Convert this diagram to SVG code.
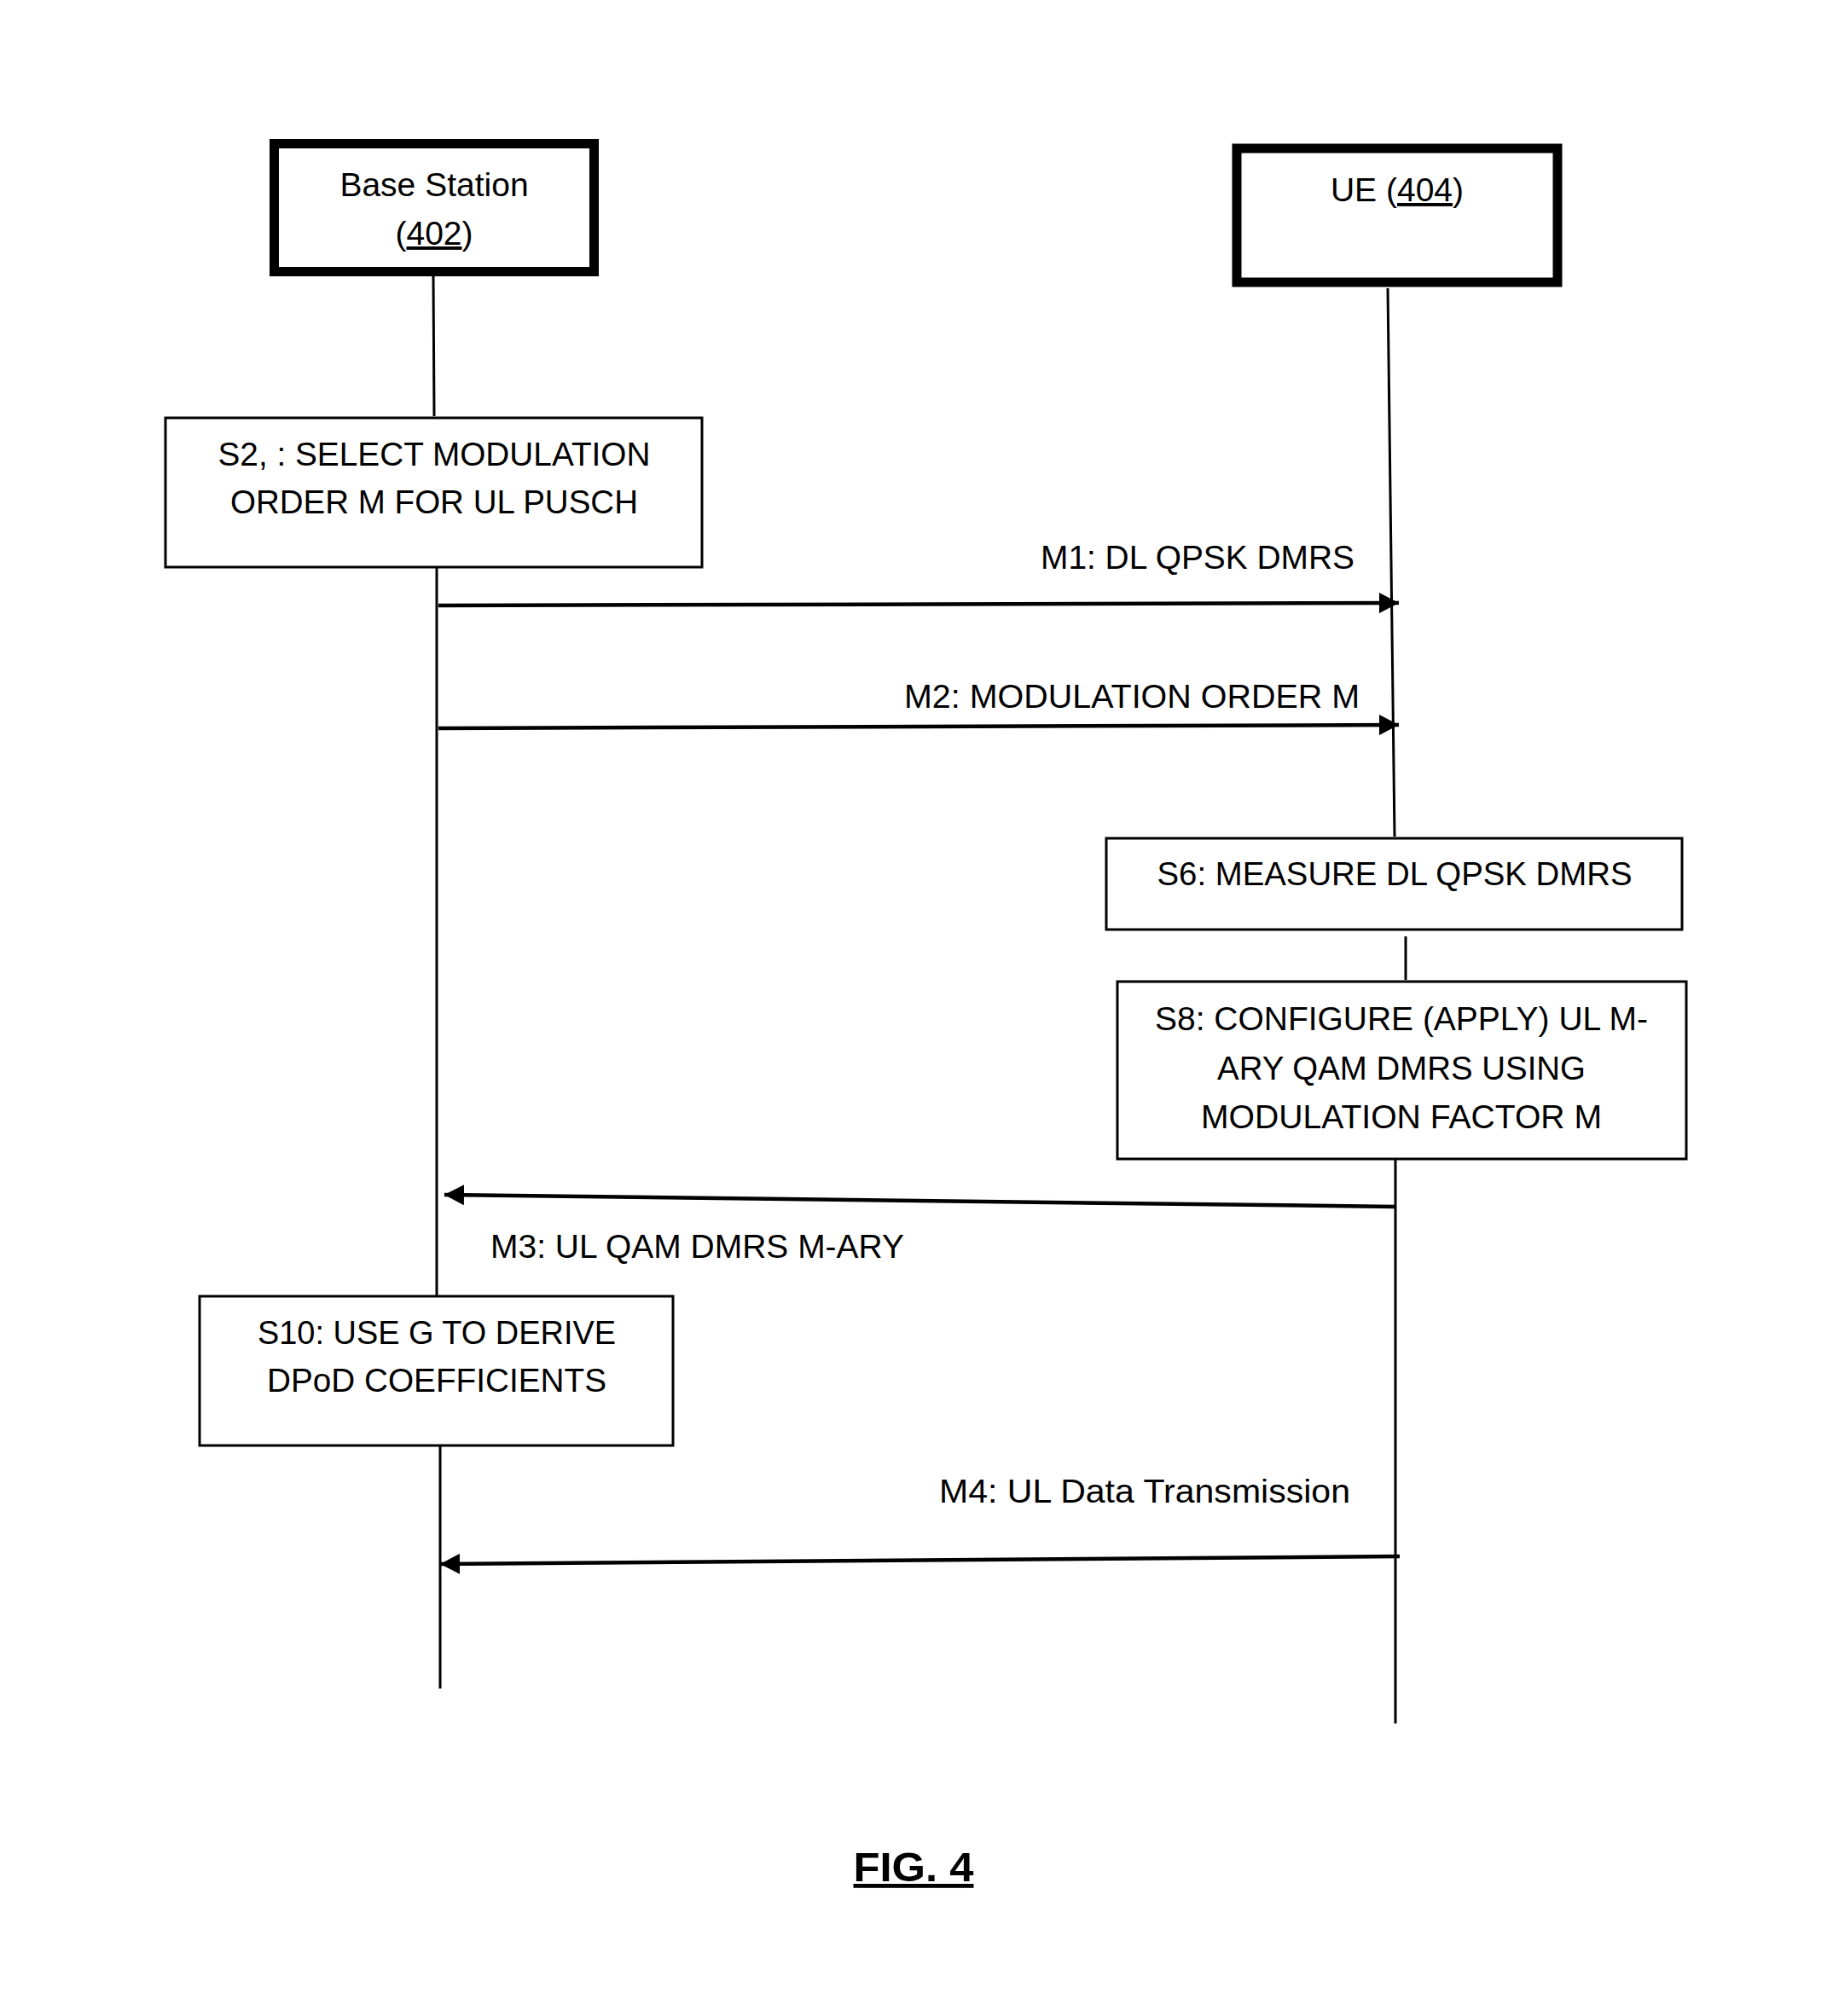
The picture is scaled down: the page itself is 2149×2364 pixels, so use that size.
<svg xmlns="http://www.w3.org/2000/svg" width="2149" height="2364" viewBox="0 0 2149 2364">
<style>
text{font-family:"Liberation Sans",Arial,sans-serif;fill:#000;}
.hd{font-size:39px;text-anchor:middle;}
.bx{font-size:38px;text-anchor:middle;}
.lb{font-size:38px;}
.actor{fill:#fff;stroke:#000;stroke-width:11;}
.step{fill:#fff;stroke:#000;stroke-width:3;}
.life{stroke:#000;stroke-width:3;fill:none;}
.msg{stroke:#000;stroke-width:4.5;fill:none;marker-end:url(#ah);}
.ul{text-decoration:underline;}
</style>
<defs>
<marker id="ah" viewBox="0 0 23 24" refX="23" refY="12" markerWidth="23" markerHeight="24" markerUnits="userSpaceOnUse" orient="auto">
<path d="M0,0 L23,12 L0,24 z" fill="#000"/>
</marker>
</defs>
<rect width="2149" height="2364" fill="#fff"/>
<g id="connectors">
<line class="life" x1="508" y1="324" x2="509" y2="488"/>
<line class="life" x1="512" y1="666" x2="512" y2="1519"/>
<line class="life" x1="516" y1="1696" x2="516" y2="1980"/>
<line class="life" x1="1627" y1="338" x2="1635" y2="981"/>
<line class="life" x1="1648" y1="1098" x2="1648" y2="1149"/>
<line class="life" x1="1636" y1="1360" x2="1636" y2="2021"/>
<line class="msg" x1="514" y1="710" x2="1640" y2="707"/>
<line class="msg" x1="514" y1="854" x2="1640" y2="850"/>
<line class="msg" x1="1636" y1="1415" x2="521" y2="1401"/>
<line class="msg" x1="1641" y1="1825" x2="516" y2="1834"/>
<text class="lb" x="1220" y="667" textLength="368" lengthAdjust="spacingAndGlyphs">M1: DL QPSK DMRS</text>
<text class="lb" x="1060" y="830" textLength="534" lengthAdjust="spacingAndGlyphs">M2: MODULATION ORDER M</text>
<text class="lb" x="575" y="1475" textLength="485" lengthAdjust="spacingAndGlyphs">M3: UL QAM DMRS M-ARY</text>
<text class="lb" x="1101" y="1762" textLength="482" lengthAdjust="spacingAndGlyphs">M4: UL Data Transmission</text>
</g>
<g id="bs">
<rect class="actor" x="321.5" y="168.5" width="375" height="150"/>
<text class="hd" x="509" y="230">Base Station</text>
<text class="hd" x="509" y="287">(<tspan class="ul">402</tspan>)</text>
</g>
<g id="ue">
<rect class="actor" x="1450" y="174" width="376" height="157"/>
<text class="hd" x="1638" y="236">UE (<tspan class="ul">404</tspan>)</text>
</g>
<g id="s2">
<rect class="step" x="194" y="490" width="629" height="175"/>
<text class="bx" x="509" y="546" textLength="507" lengthAdjust="spacingAndGlyphs">S2, : SELECT MODULATION</text>
<text class="bx" x="509" y="602" textLength="478" lengthAdjust="spacingAndGlyphs">ORDER M FOR UL PUSCH</text>
</g>
<g id="s6">
<rect class="step" x="1297" y="983" width="675" height="107"/>
<text class="bx" x="1635" y="1038" textLength="557" lengthAdjust="spacingAndGlyphs">S6: MEASURE DL QPSK DMRS</text>
</g>
<g id="s8">
<rect class="step" x="1310" y="1151" width="667" height="208"/>
<text class="bx" x="1643" y="1208" textLength="578" lengthAdjust="spacingAndGlyphs">S8: CONFIGURE (APPLY) UL M-</text>
<text class="bx" x="1643" y="1266" textLength="432" lengthAdjust="spacingAndGlyphs">ARY QAM DMRS USING</text>
<text class="bx" x="1643" y="1323" textLength="470" lengthAdjust="spacingAndGlyphs">MODULATION FACTOR M</text>
</g>
<g id="s10">
<rect class="step" x="234" y="1520" width="555" height="175"/>
<text class="bx" x="512" y="1576" textLength="420" lengthAdjust="spacingAndGlyphs">S10: USE G TO DERIVE</text>
<text class="bx" x="512" y="1632" textLength="398" lengthAdjust="spacingAndGlyphs">DPoD COEFFICIENTS</text>
</g>
<g id="fig">
<text x="1071" y="2206" style="font-size:48px;font-weight:bold;text-anchor:middle;text-decoration:underline" textLength="141" lengthAdjust="spacingAndGlyphs">FIG. 4</text>
</g>
</svg>
